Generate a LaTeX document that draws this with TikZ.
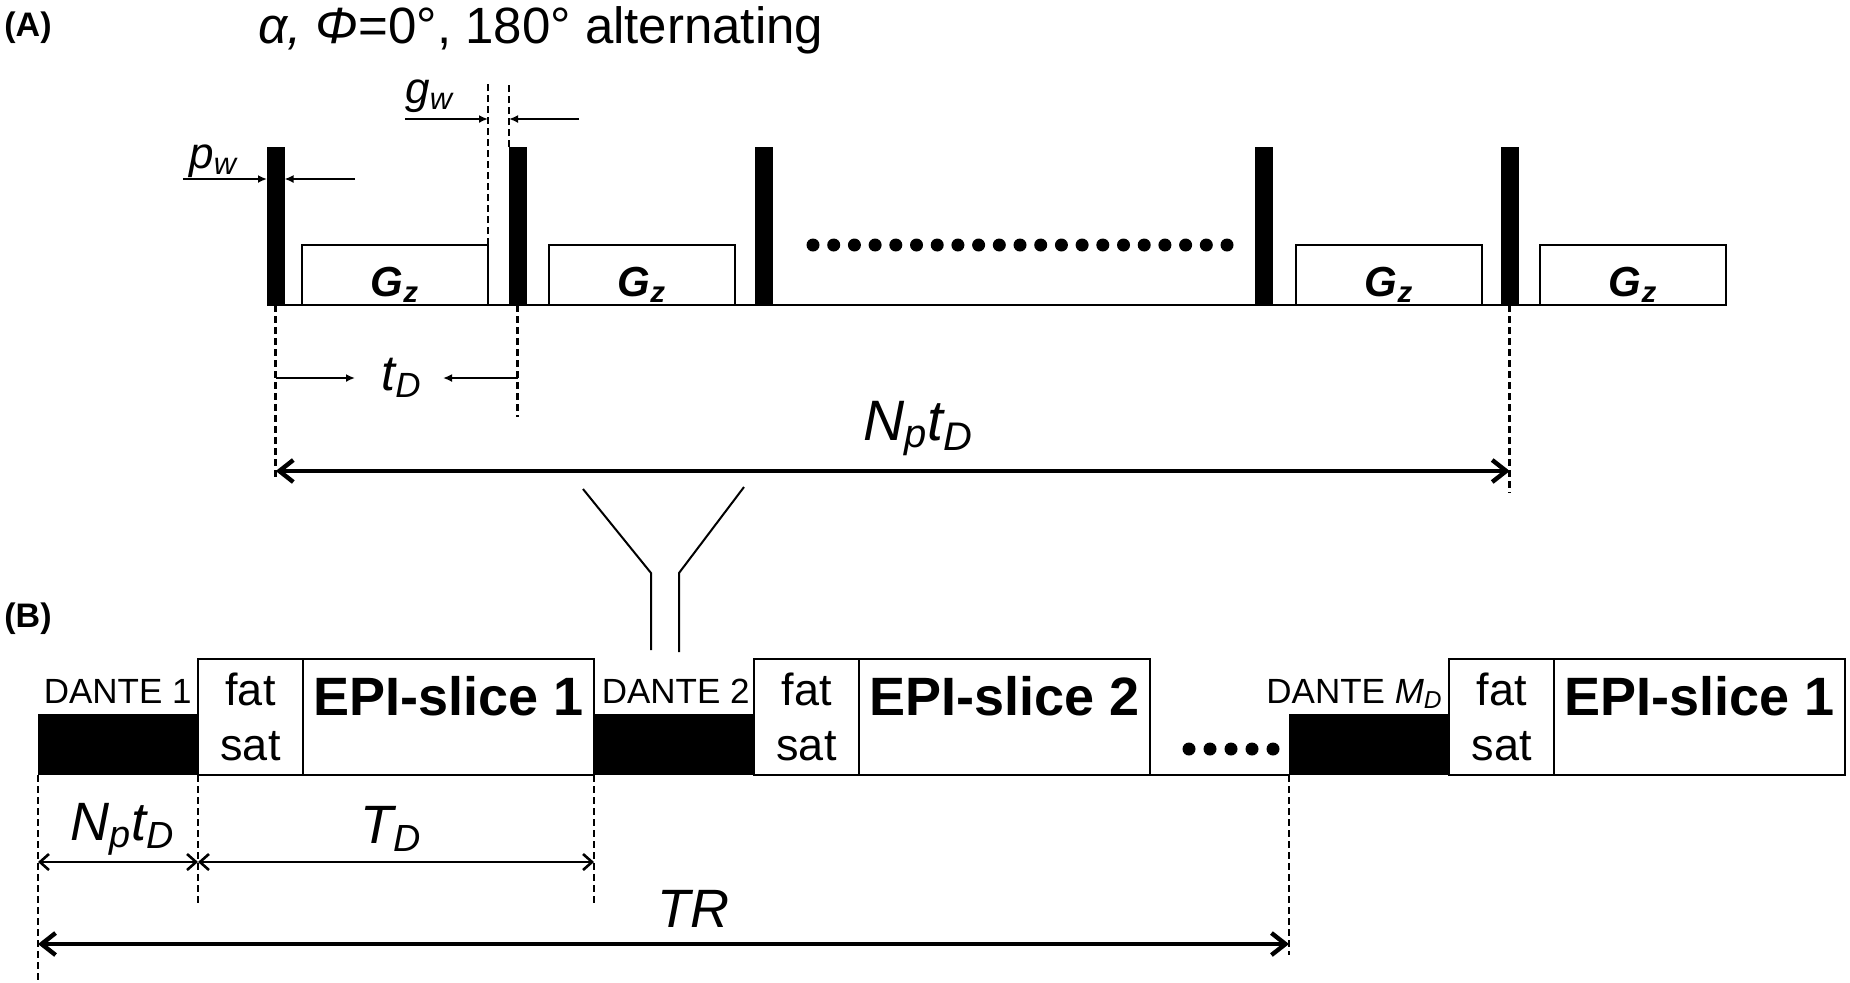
\documentclass[tikz,border=0pt]{standalone}
\usepackage{fontspec}
\setmainfont{Liberation Sans}
\usetikzlibrary{arrows.meta,positioning}

\begin{document}
\begin{tikzpicture}[x=0.5pt,y=-0.5pt,>={Latex[length=4.5pt,width=4pt]},
  panel/.style={font=\bfseries\fontsize{17}{20}\selectfont},
  pulse/.style={fill=black,inner sep=0,outer sep=0,minimum width=8.75pt,minimum height=79pt,anchor=south west},
  gbox/.style={draw,line width=1.3pt,inner sep=0,outer sep=0,minimum width=93pt,minimum height=30pt,anchor=south west,text height=24pt,text depth=3pt,font=\bfseries\itshape\fontsize{21}{24}\selectfont},
  dante/.style={fill=black,inner sep=0,outer sep=0,minimum width=80pt,minimum height=30.5pt,anchor=south west},
  fsbox/.style={draw,line width=1.3pt,inner sep=0,outer sep=0,minimum width=52.5pt,minimum height=58pt,align=center,font=\fontsize{22.5}{27.5}\selectfont},
  epibox/.style={draw,line width=1.3pt,inner sep=0,outer sep=0,minimum width=145.5pt,minimum height=58pt,text height=19pt,text depth=21pt,font=\bfseries\fontsize{27}{30}\selectfont},
  dlbl/.style={anchor=base east,inner sep=0,font=\fontsize{17.5}{20}\selectfont},
  sublbl/.style={anchor=base west,inner sep=0,font=\itshape\fontsize{22}{26}\selectfont},
  biglbl/.style={anchor=base west,inner sep=0,font=\itshape\fontsize{27}{32}\selectfont},
  guide/.style={line width=1.4pt,dash pattern=on 3.5pt off 2pt},
  dimline/.style={line width=1.2pt},
  dimmid/.style={line width=1.3pt,<->,>={Straight Barb[length=4.5pt,width=8pt]}},
  dimbig/.style={line width=2.2pt,<->,>={Straight Barb[length=7pt,width=11pt]}}]
\useasboundingbox (0,0) rectangle (1850,982);

% (A) DANTE pulse train
\node[panel] (lblA) at (28,28) {(A)};
\node[anchor=base west,inner sep=0,font=\fontsize{25.5}{30}\selectfont] (title) at (258,43) {\textit{α,} \textit{Φ}=0°, 180° alternating};

\node[pulse] (p1) at (267,305) {};
\node[pulse] (p2) at (509,305) {};
\node[pulse] (p3) at (755,305) {};
\node[pulse] (p4) at (1255,305) {};
\node[pulse] (p5) at (1501,305) {};
\node[gbox] (g1) at (302,305) {G\textsubscript{z}};
\node[gbox] (g2) at (549,305) {G\textsubscript{z}};
\node[gbox] (g3) at (1296,305) {G\textsubscript{z}};
\node[gbox] (g4) at (1540,305) {G\textsubscript{z}};
\draw[line width=1.2pt] (p1.south west) -- (g4.south east);
\foreach \i in {0,...,20}
  \fill ({813+20.7*\i},245) circle[radius=3.25pt];

% pulse and gap widths
\coordinate (ytop) at (0,82);
\draw[guide] (g1.north east) -- (g1.north east |- ytop);
\draw[guide] (p2.north west) -- (p2.north west |- ytop);
\coordinate (gwl) at (405,119);
\coordinate (gwr) at (579,119);
\draw[dimline,->] (gwl) -- (g1.north east |- gwl);
\draw[dimline,->] (gwr) -- (p2.north west |- gwr);
\node[sublbl] (gw) at (405,103) {g\textsubscript{w}};
\coordinate (pwl) at (183,179);
\coordinate (pwr) at (355,179);
\draw[dimline,->] (pwl) -- (p1.west |- pwl);
\draw[dimline,->] (pwr) -- (p1.east |- pwr);
\node[sublbl] (pw) at (189,168) {p\textsubscript{w}};

% t_D and N_p t_D
\coordinate (ga1) at (0,480);
\coordinate (ga2) at (0,417);
\coordinate (ga5) at (0,493);
\draw[guide] (p1.south) -- (p1.south |- ga1);
\draw[guide] (p2.south) -- (p2.south |- ga2);
\draw[guide] (p5.south) -- (p5.south |- ga5);
\coordinate (tda) at (355,378);
\coordinate (tdb) at (443,378);
\draw[dimline,->] (p1.south |- tda) -- (tda);
\draw[dimline,->] (p2.south |- tdb) -- (tdb);
\node[biglbl,font=\itshape\fontsize{25}{30}\selectfont] (td) at (381,390) {t\textsubscript{D}};
\coordinate (yn) at (0,471);
\draw[dimbig] (p1.south |- yn) -- (p5.south |- yn);
\node[biglbl,font=\itshape\fontsize{28.5}{32}\selectfont] (np) at (863,440) {N\textsubscript{p}t\textsubscript{D}};

% zoom lines
\coordinate (f1) at (583,489);
\coordinate (f2) at (651,573);
\coordinate (f3) at (651,650);
\coordinate (f4) at (744,487);
\coordinate (f5) at (679,573);
\coordinate (f6) at (679,652);
\draw[line width=1pt] (f1) -- (f2) -- (f3);
\draw[line width=1pt] (f4) -- (f5) -- (f6);

% (B) multi-slice sequence
\node[panel] (lblB) at (28,619) {(B)};
\node[dante] (d1) at (38,775) {};
\node[fsbox,anchor=south west] (fs1) at (d1.south east) {fat\\sat};
\node[epibox,right=0pt of fs1] (e1) {EPI-slice 1};
\node[dante] (d2) at (594,775) {};
\node[fsbox,anchor=south west] (fs2) at (d2.south east) {fat\\sat};
\node[epibox,right=0pt of fs2] (e2) {EPI-slice 2};
\node[dante] (dm) at (1289,775) {};
\node[fsbox,anchor=south west] (fs3) at (dm.south east) {fat\\sat};
\node[epibox,right=0pt of fs3] (e3) {EPI-slice 1};
\draw[line width=1.2pt] (e2.south east) -- (dm.south west);
\foreach \i in {0,...,4}
  \fill ({1189+21*\i},749) circle[radius=3.25pt];
\node[dlbl] (dl1) at (192,703) {DANTE 1};
\node[dlbl] (dl2) at (750,703) {DANTE 2};
\node[dlbl] (dlm) at (1443,703) {DANTE \textit{M}\textsubscript{\textit{D}}};

% timing
\coordinate (gb0) at (0,982);
\coordinate (gb1) at (0,905);
\coordinate (gbm) at (0,955);
\draw[guide] (d1.south west) -- (d1.south west |- gb0);
\draw[guide] (fs1.south west) -- (fs1.south west |- gb1);
\draw[guide] (e1.south east) -- (e1.south east |- gb1);
\draw[guide] (dm.south west) -- (dm.south west |- gbm);
\coordinate (yb) at (0,862);
\coordinate (ytr) at (0,944);
\draw[dimmid] (d1.south west |- yb) -- (fs1.south west |- yb);
\draw[dimmid] (fs1.south west |- yb) -- (e1.south east |- yb);
\draw[dimbig] (d1.south west |- ytr) -- (dm.south west |- ytr);
\node[biglbl] (npb) at (70,840) {N\textsubscript{p}t\textsubscript{D}};
\node[biglbl] (tdb) at (360,843) {T\textsubscript{D}};
\node[biglbl] (tr) at (657,927) {TR};
\end{tikzpicture}
\end{document}
